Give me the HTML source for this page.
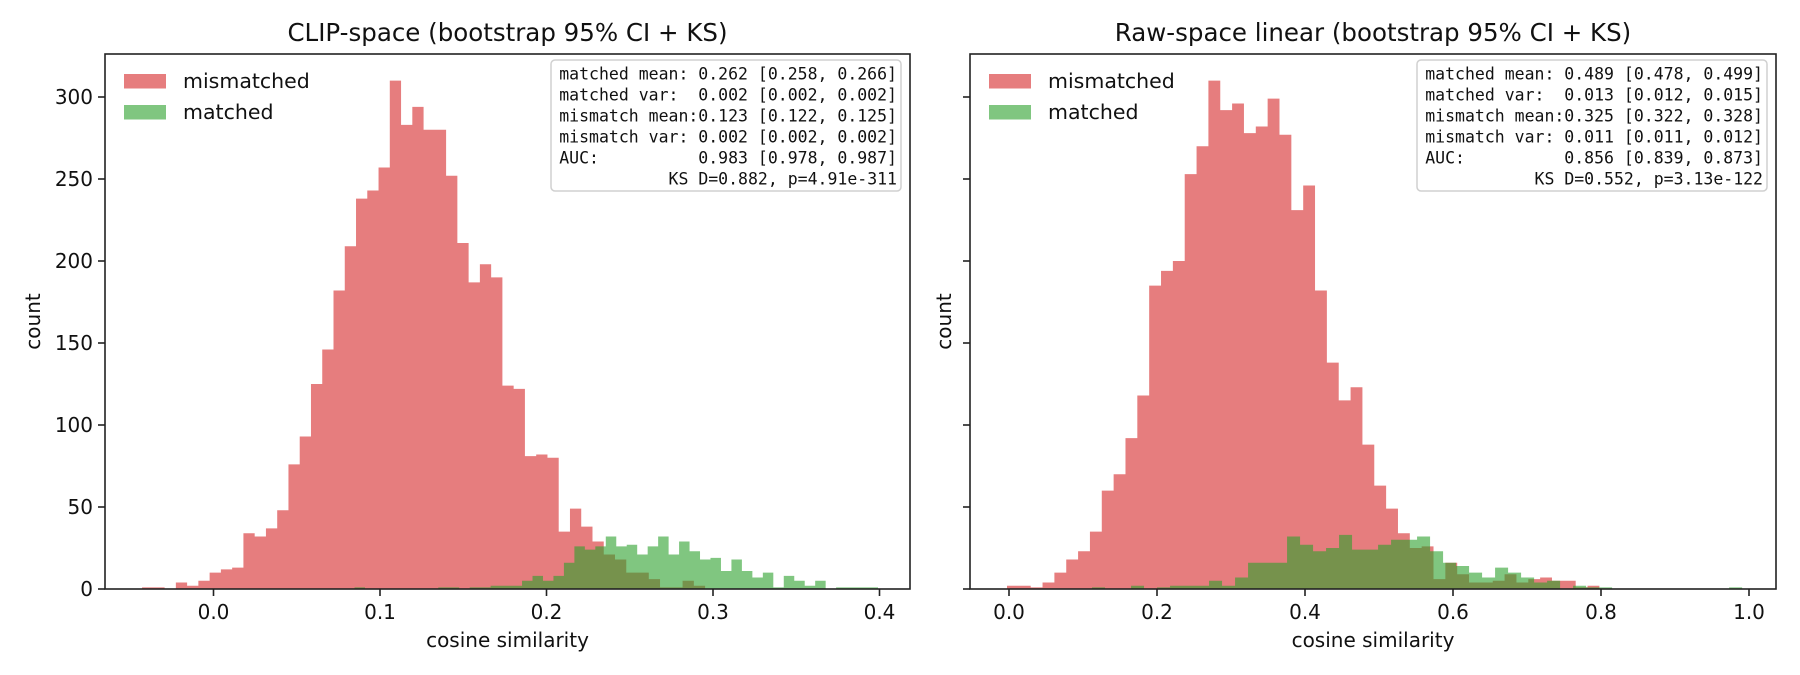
<!DOCTYPE html>
<html><head><meta charset="utf-8"><style>
html,body{margin:0;padding:0;background:#fff;}
svg{display:block;font-family:"DejaVu Sans","Liberation Sans",sans-serif;}
.mono{font-family:"DejaVu Sans Mono","Liberation Mono",monospace;}
</style></head><body>
<svg id="fig" width="1800" height="675" viewBox="0 0 1800 675" xmlns="http://www.w3.org/2000/svg"></svg>
<script>
// ---- data ----
const yTicks = [0, 50, 100, 150, 200, 250, 300];
const leftXTicks = [0.0, 0.1, 0.2, 0.3, 0.4];
const rightXTicks = [0.0, 0.2, 0.4, 0.6, 0.8, 1.0];

const leftMisStart = -0.0429, leftMisWidth = 0.006763;
const leftMisCounts = [1,1,0,4,2,5,10,12,13,34,32,37,48,76,93,125,146,182,209,238,243,257,310,283,294,280,280,252,211,187,198,190,124,122,81,82,80,35,49,38,29,21,18,10,10,6,1,1,5,2];
const leftMatStart = 0.0847, leftMatWidth = 0.006288;
const leftMatCounts = [1,0,0,0,0,0,0,0,1,1,0,1,1,2,2,2,5,8,5,8,16,26,24,26,32,26,27,21,26,32,21,29,23,18,19,11,18,11,7,10,1,8,5,2,5,0,1,1,1,1];

const rightMisStart = -0.0027, rightMisWidth = 0.01601;
const rightMisCounts = [2,2,1,4,10,18,23,35,60,70,92,118,185,194,200,253,270,310,292,296,278,282,299,277,231,246,182,138,115,123,88,63,49,34,25,26,6,16,9,4,4,5,9,4,6,7,5,5,1,2];
const rightMatStart = 0.1122, rightMatWidth = 0.01757;
const rightMatCounts = [1,0,0,2,0,1,2,2,2,5,2,7,16,16,16,32,27,23,25,33,24,24,27,30,30,32,23,16,14,10,7,13,10,7,4,5,0,2,1,1,0,0,0,0,0,0,0,0,0,1];

const leftStats = ["matched mean: 0.262 [0.258, 0.266]","matched var:  0.002 [0.002, 0.002]","mismatch mean:0.123 [0.122, 0.125]","mismatch var: 0.002 [0.002, 0.002]","AUC:          0.983 [0.978, 0.987]","KS D=0.882, p=4.91e-311"];
const rightStats = ["matched mean: 0.489 [0.478, 0.499]","matched var:  0.013 [0.012, 0.015]","mismatch mean:0.325 [0.322, 0.328]","mismatch var: 0.011 [0.011, 0.012]","AUC:          0.856 [0.839, 0.873]","KS D=0.552, p=3.13e-122"];

// ---- drawing ----
const NS = "http://www.w3.org/2000/svg";
const svg = document.getElementById('fig');
function mk(tag, attrs, parent){
  const e = document.createElementNS(NS, tag);
  for (const k in attrs) e.setAttribute(k, attrs[k]);
  (parent||svg).appendChild(e);
  return e;
}
const Y0 = 589, PXC = 1.64;
function yS(c){ return Y0 - c*PXC; }

function stepPath(xS, start, width, counts){
  let d = 'M' + xS(start).toFixed(2) + ',' + Y0;
  counts.forEach((c,i)=>{
    const a = xS(start + i*width), b = xS(start + (i+1)*width);
    d += ' L' + a.toFixed(2) + ',' + yS(c).toFixed(2) + ' L' + b.toFixed(2) + ',' + yS(c).toFixed(2);
  });
  d += ' L' + xS(start + counts.length*width).toFixed(2) + ',' + Y0 + ' Z';
  return d;
}

function panel(cfg){
  const g = mk('g', {});
  
  
  const xS = v => cfg.x0 + v*cfg.xk;
  const pm = mk('path', {d:stepPath(xS, cfg.misStart, cfg.misWidth, cfg.misCounts), fill:'#d62728', 'fill-opacity':0.6}, g);
  
  
  const pg = mk('path', {d:stepPath(xS, cfg.matStart, cfg.matWidth, cfg.matCounts), fill:'#2ca02c', 'fill-opacity':0.6}, g);
  
  
  // axes frame
  const fr = mk('rect', {x:cfg.L, y:54, width:cfg.R-cfg.L, height:Y0-54, fill:'none', stroke:'#222', 'stroke-width':1.6}, g);
  
  
  yTicks.forEach(t=>{
    mk('line', {x1:cfg.L-7, x2:cfg.L, y1:yS(t), y2:yS(t), stroke:'#222', 'stroke-width':1.6}, g);
    if(cfg.yLabels){
      const tx = mk('text', {x:cfg.L-12, y:yS(t)+7, 'text-anchor':'end', 'font-size':20, fill:'#111'}, g);
      tx.textContent = String(t);
      
      
    }
  });
  cfg.xTicks.forEach(t=>{
    const x = xS(t);
    mk('line', {x1:x, x2:x, y1:Y0, y2:Y0+7, stroke:'#222', 'stroke-width':1.6}, g);
    const tx = mk('text', {x:x, y:619, 'text-anchor':'middle', 'font-size':20, fill:'#111'}, g);
    tx.textContent = t.toFixed(1);
    
    
  });
  const ti = mk('text', {x:(cfg.L+cfg.R)/2, y:41, 'text-anchor':'middle', 'font-size':24.5, fill:'#111'}, g);
  ti.textContent = cfg.title;
  
  
  const xl = mk('text', {x:(cfg.L+cfg.R)/2, y:647, 'text-anchor':'middle', 'font-size':20, fill:'#111'}, g);
  xl.textContent = 'cosine similarity';
  
  
  const yl = mk('text', {x:0, y:0, 'text-anchor':'middle', 'font-size':20, fill:'#111', transform:`translate(${cfg.yLabelX},${(54+Y0)/2}) rotate(-90)`}, g);
  yl.textContent = 'count';
  
  
  const lg = mk('g', {}, g);
  
  
  [['mismatched','#d62728',74],['matched','#2ca02c',105]].forEach(([lab,col,y])=>{
    const p = mk('rect', {x:cfg.L+19, y:y, width:42, height:14.5, fill:col, 'fill-opacity':0.6}, lg);
    
    
    const t = mk('text', {x:cfg.L+78, y:y+14, 'font-size':20.5, fill:'#111'}, lg);
    t.textContent = lab;
    
    
  });
  const sb = mk('g', {}, g);
  
  
  mk('rect', {x:cfg.R-359, y:60, width:350, height:131, rx:4, fill:'#fff', 'fill-opacity':0.85, stroke:'#d0d0d0', 'stroke-width':1.5}, sb);
  cfg.stats.forEach((s,i)=>{
    const t = mk('text', {x:cfg.R-13, y:79.3+i*21, 'text-anchor':'end', 'font-size':16.5, fill:'#111', 'class':'mono', style:'white-space:pre'}, sb);
    t.textContent = s;
    
    
  });
}

panel({name:'clip-space-panel', title:'CLIP-space (bootstrap 95% CI + KS)', L:105, R:910, x0:213.5, xk:1665,
  xTicks:leftXTicks, yLabels:true, yLabelX:40,
  misStart:leftMisStart, misWidth:leftMisWidth, misCounts:leftMisCounts,
  matStart:leftMatStart, matWidth:leftMatWidth, matCounts:leftMatCounts, stats:leftStats});
panel({name:'raw-space-panel', title:'Raw-space linear (bootstrap 95% CI + KS)', L:970, R:1776, x0:1009, xk:740,
  xTicks:rightXTicks, yLabels:false, yLabelX:951,
  misStart:rightMisStart, misWidth:rightMisWidth, misCounts:rightMisCounts,
  matStart:rightMatStart, matWidth:rightMatWidth, matCounts:rightMatCounts, stats:rightStats});
</script>
</body></html>
